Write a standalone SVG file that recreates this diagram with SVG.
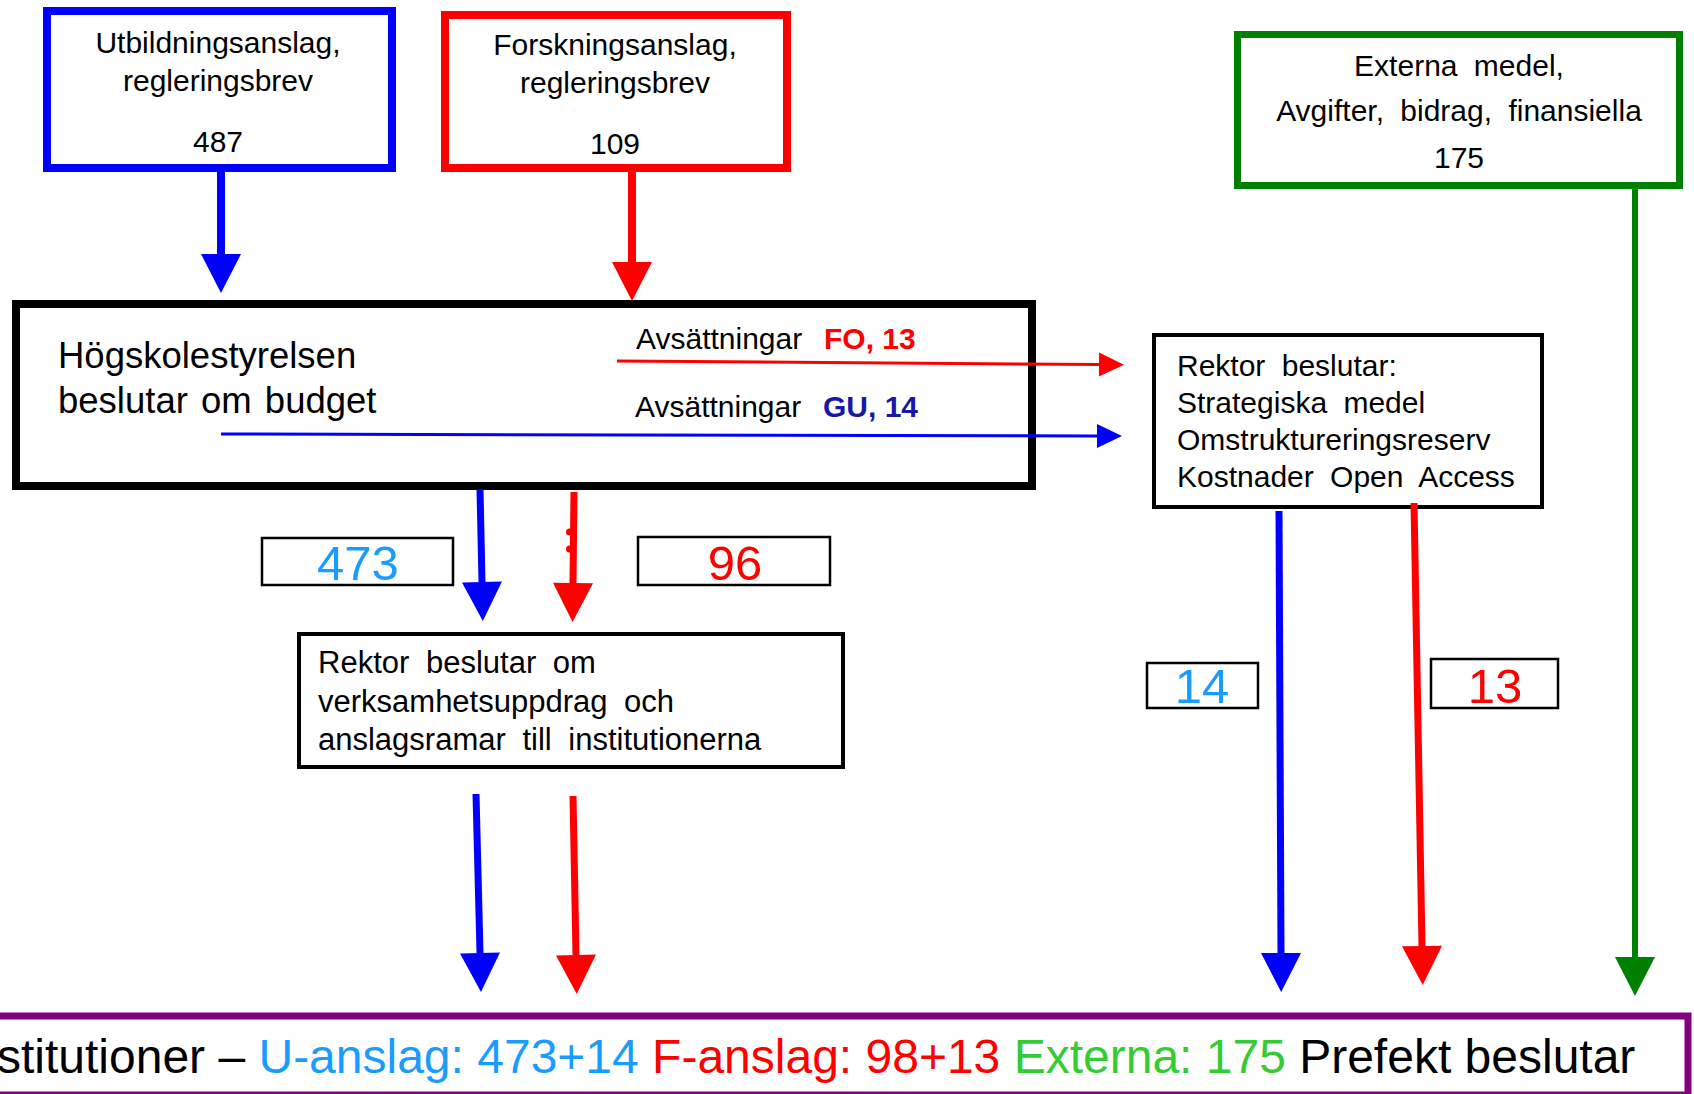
<svg xmlns="http://www.w3.org/2000/svg" width="1694" height="1094" viewBox="0 0 1694 1094">
<style>
text{font-family:"Liberation Sans",Arial,sans-serif;fill:#000}
.t30{font-size:30px}
.mid{text-anchor:middle}
.ws{word-spacing:8px}
.box{fill:#fff}
.lbl{fill:#fff;stroke:#000;stroke-width:2.5}
.num{font-size:49px;text-anchor:middle}
.lb{fill:#1a9cff}
.rd{fill:#ff0000}
.gr{fill:#33cc33}
.conn{fill:none;stroke-linecap:butt}
</style>
<defs>
<marker id="aB" markerUnits="userSpaceOnUse" markerWidth="40" markerHeight="40" refX="0" refY="20" orient="auto" overflow="visible"><path d="M0,0 L39,20 L0,40 Z" fill="#0000ff"/></marker>
<marker id="aR" markerUnits="userSpaceOnUse" markerWidth="40" markerHeight="40" refX="0" refY="20" orient="auto" overflow="visible"><path d="M0,0 L39,20 L0,40 Z" fill="#ff0000"/></marker>
<marker id="aG" markerUnits="userSpaceOnUse" markerWidth="40" markerHeight="40" refX="0" refY="20" orient="auto" overflow="visible"><path d="M0,0 L39,20 L0,40 Z" fill="#008000"/></marker>
<marker id="tB" markerUnits="userSpaceOnUse" markerWidth="26" markerHeight="26" refX="0" refY="12" orient="auto" overflow="visible"><path d="M0,0 L25,12 L0,24 Z" fill="#0000ff"/></marker>
<marker id="tR" markerUnits="userSpaceOnUse" markerWidth="26" markerHeight="26" refX="0" refY="12" orient="auto" overflow="visible"><path d="M0,0 L25,12 L0,24 Z" fill="#ff0000"/></marker>
</defs>
<rect width="1694" height="1094" fill="#fff"/>

<g id="utbildning">
<rect x="47" y="11" width="345" height="157" class="box" stroke="#0000ff" stroke-width="8"/>
<text class="t30 mid" x="218" y="53">Utbildningsanslag,</text>
<text class="t30 mid" x="218" y="91">regleringsbrev</text>
<text class="t30 mid" x="218" y="152">487</text>
</g>

<g id="forskning">
<rect x="445" y="15" width="342" height="153" class="box" stroke="#ff0000" stroke-width="8"/>
<text class="t30 mid" x="615" y="55">Forskningsanslag,</text>
<text class="t30 mid" x="615" y="93">regleringsbrev</text>
<text class="t30 mid" x="615" y="154">109</text>
</g>

<g id="externa">
<rect x="1237.5" y="34.5" width="442" height="151" class="box" stroke="#008000" stroke-width="7"/>
<text class="t30 mid ws" x="1459" y="76">Externa medel,</text>
<text class="t30 mid ws" x="1459" y="121">Avgifter, bidrag, finansiella</text>
<text class="t30 mid" x="1459" y="168">175</text>
</g>

<g id="hogskolestyrelsen">
<rect x="16" y="304" width="1016" height="182" class="box" stroke="#000" stroke-width="8"/>
<text x="58" y="368" style="font-size:36.5px">Högskolestyrelsen</text>
<text x="58" y="413" style="font-size:36.5px;word-spacing:3px">beslutar om budget</text>
<text class="t30" x="636" y="349">Avsättningar <tspan x="824" style="font-weight:bold;fill:#ff0000">FO, 13</tspan></text>
<text class="t30" x="635" y="417">Avsättningar <tspan x="823" style="font-weight:bold;fill:#1818a8">GU, 14</tspan></text>
</g>

<g id="rektor-strategi">
<rect x="1154" y="335" width="388" height="172" class="box" stroke="#000" stroke-width="4"/>
<text class="t30 ws" x="1177" y="376">Rektor beslutar:</text>
<text class="t30 ws" x="1177" y="413">Strategiska medel</text>
<text class="t30 ws" x="1177" y="450">Omstruktureringsreserv</text>
<text class="t30 ws" x="1177" y="487">Kostnader Open Access</text>
</g>

<g id="rektor-institutioner">
<rect x="299" y="634" width="544" height="133" class="box" stroke="#000" stroke-width="4"/>
<text class="ws" x="318" y="673" style="font-size:31px">Rektor beslutar om</text>
<text class="ws" x="318" y="712" style="font-size:31px">verksamhetsuppdrag och</text>
<text class="ws" x="318" y="750" style="font-size:31px">anslagsramar till institutionerna</text>
</g>

<g id="connectors" class="conn">
<path d="M221,172 L221,254" stroke="#0000ff" stroke-width="8" marker-end="url(#aB)"/>
<path d="M632,172 L632,262" stroke="#ff0000" stroke-width="8" marker-end="url(#aR)"/>
<path d="M1635,189 L1635,957" stroke="#008000" stroke-width="6" marker-end="url(#aG)"/>
<path d="M617,361 L1099,364.5" stroke="#ff0000" stroke-width="3" marker-end="url(#tR)"/>
<path d="M221,434 L1097,436" stroke="#0000ff" stroke-width="3" marker-end="url(#tB)"/>
<path d="M480,489 L482,582" stroke="#0000ff" stroke-width="7" marker-end="url(#aB)"/>
<path d="M574,492 L573,583" stroke="#ff0000" stroke-width="7" marker-end="url(#aR)"/>
<circle cx="569.5" cy="532" r="3.5" fill="#ff0000"/>
<circle cx="569.5" cy="549" r="3.5" fill="#ff0000"/>
<path d="M476,794 L480,953" stroke="#0000ff" stroke-width="7" marker-end="url(#aB)"/>
<path d="M573,796 L576,955" stroke="#ff0000" stroke-width="7" marker-end="url(#aR)"/>
<path d="M1279,511 L1281,953" stroke="#0000ff" stroke-width="7" marker-end="url(#aB)"/>
<path d="M1414,503 L1422,946" stroke="#ff0000" stroke-width="7" marker-end="url(#aR)"/>
</g>

<g id="label-473">
<rect x="262" y="538" width="191" height="47" class="lbl"/>
<text class="num lb" x="358" y="580">473</text>
</g>
<g id="label-96">
<rect x="638" y="537" width="192" height="48" class="lbl"/>
<text class="num rd" x="735" y="580">96</text>
</g>
<g id="label-14">
<rect x="1147" y="663" width="111" height="45" class="lbl"/>
<text class="num lb" x="1202" y="703">14</text>
</g>
<g id="label-13">
<rect x="1431" y="659" width="127" height="49" class="lbl"/>
<text class="num rd" x="1495" y="703">13</text>
</g>

<g id="institutioner">
<rect x="-10" y="1016" width="1698" height="79" fill="#fff" stroke="#800080" stroke-width="7"/>
<text x="-3" y="1073" style="font-size:48px">stitutioner – <tspan class="lb">U-anslag: 473+14 </tspan><tspan class="rd">F-anslag: 98+13 </tspan><tspan class="gr">Externa: 175 </tspan>Prefekt beslutar</text>
</g>
</svg>
